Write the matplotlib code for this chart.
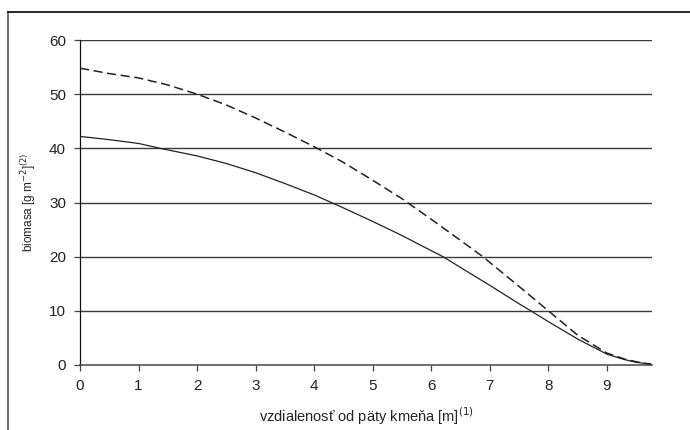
import numpy as np
import matplotlib.pyplot as plt
from matplotlib.lines import Line2D

plt.rcParams['font.family'] = ['Liberation Sans', 'DejaVu Sans']

# distance from stem base [m]
x_solid = [0, 0.5, 1, 1.37, 2, 2.5, 3, 3.5, 4, 4.5, 5, 5.5, 6, 6.2, 6.5, 7, 7.5, 7.7, 8, 8.5, 9, 9.3, 9.5, 9.75]
y_solid = [42.2, 41.6, 40.9, 40.0, 38.6, 37.2, 35.5, 33.5, 31.4, 29.0, 26.5, 23.9, 21.1, 20.0, 18.0, 14.7, 11.3, 10.0, 8.0, 4.8, 2.0, 1.0, 0.5, 0.15]

x_dash = [0, 0.5, 1, 1.5, 2, 2.5, 3, 3.5, 4, 4.5, 5, 5.5, 6, 6.5, 6.88, 7.5, 8, 8.5, 9, 9.3, 9.5, 9.75]
y_dash = [54.8, 53.8, 53.0, 51.7, 50.0, 48.0, 45.6, 43.0, 40.3, 37.4, 34.1, 30.7, 26.9, 23.0, 20.0, 14.5, 10.0, 5.5, 2.2, 1.1, 0.6, 0.15]

xticks = list(range(10))
yticks = [0, 10, 20, 30, 40, 50, 60]

fig = plt.figure(figsize=(6.9, 4.3), dpi=100)
ax = fig.add_axes([80/690, 1-365/430, (652-80)/690, (365-40)/430])

for yv in yticks[1:]:
    ax.axhline(yv, color='#3a3a3a', lw=1.0, zorder=1)

ax.plot(x_solid, y_solid, color='#222222', lw=0.9, zorder=3)
ax.plot(x_dash, y_dash, color='#222222', lw=1.1, dashes=(6, 3), zorder=3)

ax.set_xlim(0, 9.77)
ax.set_ylim(0, 60)
ax.set_xticks(xticks)
ax.set_yticks(yticks)
ax.tick_params(direction='out', length=4, width=0.9, color='#444444',
               labelsize=11, labelcolor='#222222', pad=6)
for s in ['top', 'right']:
    ax.spines[s].set_visible(False)
ax.spines['left'].set_color('#111111')
ax.spines['bottom'].set_color('#555555')
ax.spines['left'].set_linewidth(0.9)
ax.spines['bottom'].set_linewidth(1.2)

ax.set_xlabel('vzdialenosť od päty kmeňa [m]$^{(1)}$', fontsize=10.5, color='#222222', labelpad=9)
ax.set_ylabel('biomasa [g m$^{-2}$]$^{(2)}$', fontsize=8.5, color='#222222', labelpad=8)

# outer frame (left and top edges)
fig.add_artist(Line2D([7.5/690, 7.5/690], [0, 1-12/430], color='#555555', lw=1.2, transform=fig.transFigure))
fig.add_artist(Line2D([7.5/690, 1], [1-12/430, 1-12/430], color='black', lw=1.2, transform=fig.transFigure))

fig.savefig('out.png', dpi=100)
